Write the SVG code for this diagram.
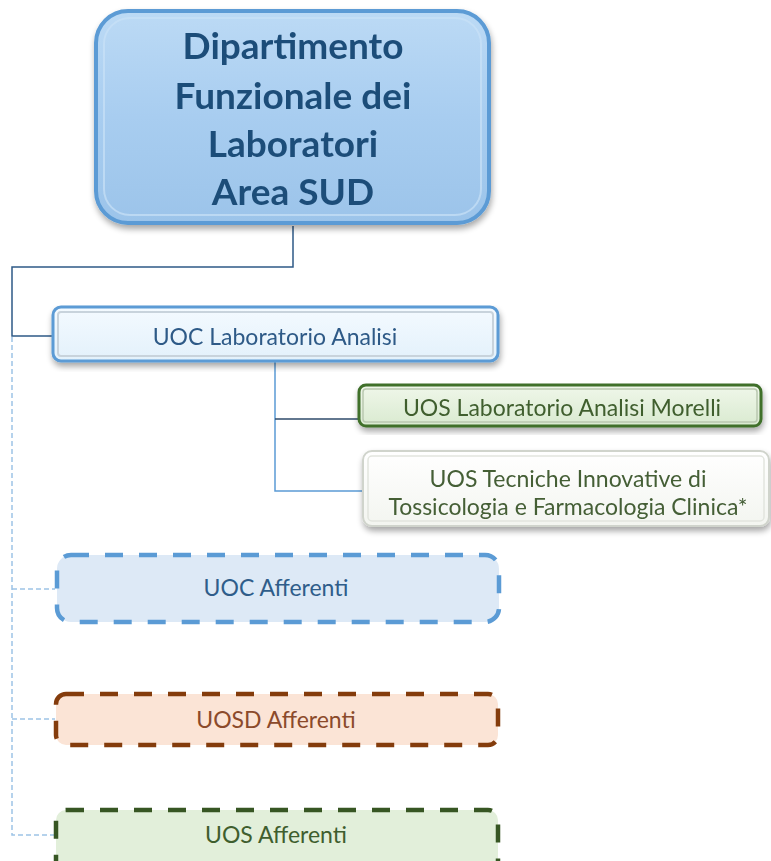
<svg xmlns="http://www.w3.org/2000/svg" width="771" height="861" viewBox="0 0 771 861">
<defs>
<linearGradient id="gTop" x1="0" y1="0" x2="0" y2="1">
<stop offset="0" stop-color="#bcdaf5"/><stop offset="0.5" stop-color="#a8cdf0"/><stop offset="1" stop-color="#9cc4ea"/>
</linearGradient>
<linearGradient id="gUoc" x1="0" y1="0" x2="0" y2="1">
<stop offset="0" stop-color="#f4faff"/><stop offset="1" stop-color="#e3f1fb"/>
</linearGradient>
<linearGradient id="gMor" x1="0" y1="0" x2="0" y2="1">
<stop offset="0" stop-color="#f0f7ea"/><stop offset="1" stop-color="#d9ead0"/>
</linearGradient>
<linearGradient id="gTos" x1="0" y1="0" x2="0" y2="1">
<stop offset="0" stop-color="#ffffff"/><stop offset="1" stop-color="#f3f5f0"/>
</linearGradient>
<filter id="sh" x="-10%" y="-10%" width="120%" height="130%">
<feGaussianBlur in="SourceAlpha" stdDeviation="3"/><feOffset dx="1" dy="4"/>
<feComponentTransfer><feFuncA type="linear" slope="0.35"/></feComponentTransfer>
<feMerge><feMergeNode/><feMergeNode in="SourceGraphic"/></feMerge>
</filter>
</defs>
<style>
text{font-family:Lato,"Liberation Sans",sans-serif;text-anchor:middle}
.title{font-size:37px;font-weight:bold;fill:#1f4e79}
.lbl{font-size:23px;dominant-baseline:central}
.dash{stroke-width:4.5;stroke-dasharray:18 16}
.conn{fill:none;stroke-width:1.5}
.aff{stroke:#9dc3e6;stroke-width:1.5;stroke-dasharray:5 3;fill:none}
</style>
<g id="connectors">
<path class="conn" stroke="#2e5a87" d="M293 226V267H12V336H54"/>
<path class="conn" stroke="#5b9bd5" d="M275 362V491H362"/>
<path class="conn" stroke="#2e4a6a" d="M275 419H358"/>
<path class="aff" d="M12 337V835H55M12 589H55M12 719H55"/>
</g>
<g id="n-dip" filter="url(#sh)">
<rect x="96" y="11" width="393" height="212" rx="32" fill="url(#gTop)" stroke="#5b9bd5" stroke-width="4"/>
<rect x="104" y="18" width="377" height="197" rx="26" fill="none" stroke="#c9e1f7" stroke-width="2" opacity="0.7"/>
<text class="title" x="293" y="59">Dipartimento</text>
<text class="title" x="293" y="109">Funzionale dei</text>
<text class="title" x="293" y="157">Laboratori</text>
<text class="title" x="293" y="205">Area SUD</text>
</g>
<g id="n-uoc-lab" filter="url(#sh)">
<rect x="53" y="307" width="445" height="54" rx="8" fill="url(#gUoc)" stroke="#5b9bd5" stroke-width="3"/>
<rect x="58" y="312" width="435" height="44" rx="3" fill="none" stroke="#c8d3dc" stroke-width="2"/>
<text class="lbl" x="275" y="336" fill="#2e5a87">UOC Laboratorio Analisi</text>
</g>
<g id="n-morelli" filter="url(#sh)">
<rect x="359" y="385" width="402" height="41" rx="7" fill="url(#gMor)" stroke="#3f6f2b" stroke-width="3"/>
<rect x="363" y="389" width="394" height="33" rx="3" fill="none" stroke="#b9c7b0" stroke-width="1.5"/>
<text class="lbl" x="562" y="407" fill="#3f5e2e">UOS Laboratorio Analisi Morelli</text>
</g>
<g id="n-tossicologia" filter="url(#sh)">
<rect x="363" y="451" width="406" height="75" rx="9" fill="url(#gTos)" stroke="#d0d4cc" stroke-width="2"/>
<rect x="368" y="456" width="396" height="65" rx="4" fill="none" stroke="#e2e5de" stroke-width="1.5"/>
<text class="lbl" x="568" y="478" fill="#445e36">UOS Tecniche Innovative di</text>
<text class="lbl" x="568" y="506" fill="#445e36">Tossicologia e Farmacologia Clinica*</text>
</g>
<g id="n-uoc-aff">
<rect class="dash" x="57" y="555" width="442" height="67" rx="14" fill="#dde9f6" stroke="#5b9bd5"/>
<text class="lbl" x="276" y="587" fill="#2f5d8a">UOC Afferenti</text>
</g>
<g id="n-uosd-aff">
<rect class="dash" x="56" y="694" width="442" height="51" rx="10" fill="#fbe4d6" stroke="#843c0c"/>
<text class="lbl" x="276" y="719" fill="#8b4a2b">UOSD Afferenti</text>
</g>
<g id="n-uos-aff">
<rect class="dash" x="56" y="810" width="442" height="60" rx="10" fill="#e2efda" stroke="#375623"/>
<text class="lbl" x="276" y="834" fill="#3f5e2e">UOS Afferenti</text>
</g>
</svg>
